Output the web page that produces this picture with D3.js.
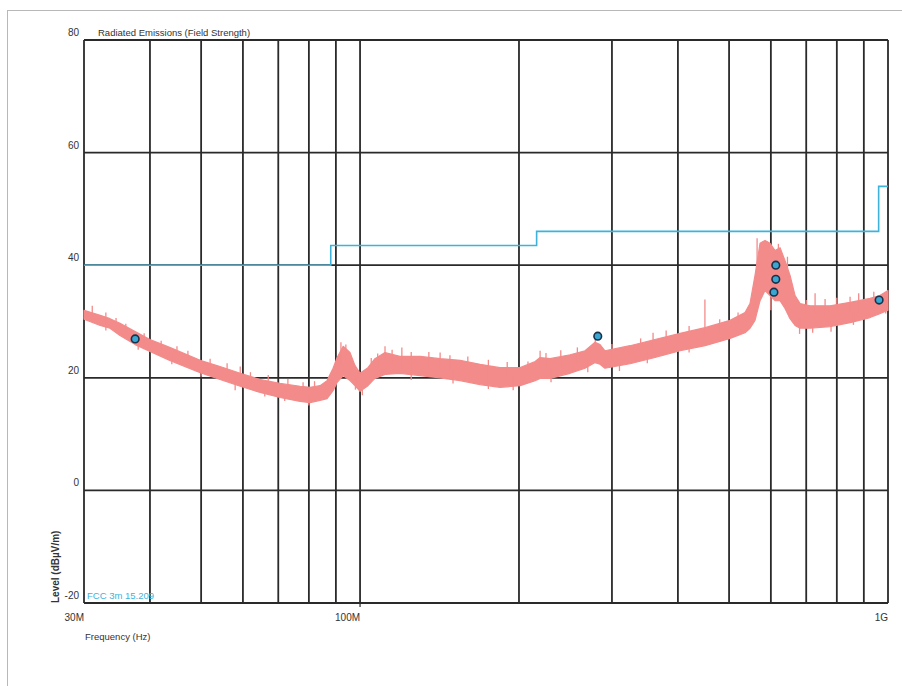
<!DOCTYPE html>
<html>
<head>
<meta charset="utf-8">
<script src="https://cdn.jsdelivr.net/npm/d3@7"></script>
<style>
  html, body { margin: 0; padding: 0; background: #ffffff; }
  svg { display: block; }
  text { font-family: "Liberation Sans", Arial, sans-serif; }
</style>
</head>
<body>
<svg id="chart" width="902" height="686"></svg>
<script>
// ---- Data ----
const gridFreqs = [30, 40, 50, 60, 70, 80, 90, 100, 200, 300, 400, 500, 600, 700, 800, 900, 1000];
const gridLevels = [-20, 0, 20, 40, 60, 80];
const yTickLabels = ["-20", "0", "20", "40", "60", "80"];
const xTickFreqs = [30, 100, 1000];
const xTickLabels = ["30M", "100M", "1G"];

// FCC 3m 15.209 limit (step after)
const limitFreq = [30, 88, 216, 960, 1000];
const limitLevel = [40, 43.5, 46, 54, 54];

// Measured trace envelope (MHz, upper dBuV/m, lower dBuV/m)
const traceFreq = [30, 32.2, 33.6, 35.1, 37.5, 40.0, 43.6, 49.8, 54.3, 59.3, 64.7, 70.5, 77.0, 80.4, 84.0, 86.6,
  88.9, 90.5, 92.9, 95.7, 97.8, 100, 103.5, 106.7, 111.5, 119, 130, 141.8, 154.7, 168.8, 184.1, 201,
  214.6, 219.3, 229, 250, 266.8, 278.7, 284.8, 291, 324.6, 361.9, 403.8, 450.3, 502.2, 536, 547.8,
  559.9, 572.3, 584.9, 597.8, 611, 624.5, 638.2, 652.3, 666.8, 681.5, 711.9, 776.7, 847.5, 924.6, 965, 1000];
const traceUpper = [32.0, 31.1, 30.5, 29.7, 28.2, 26.8, 25.4, 23.1, 22.0, 20.8, 19.7, 19.0, 18.5, 18.3, 18.6, 19.5,
  21.7, 23.6, 25.6, 24.5, 22.2, 20.8, 21.8, 23.4, 24.5, 23.8, 23.8, 23.4, 23.1, 22.4, 21.8, 21.8,
  22.9, 23.6, 23.4, 24.1, 24.8, 26.3, 25.9, 24.8, 25.7, 26.8, 27.9, 28.9, 30.2, 31.6, 33.2,
  38.2, 43.9, 44.4, 43.9, 42.6, 43.1, 40.8, 38.2, 34.6, 33.2, 32.8, 32.8, 33.4, 34.1, 34.6, 35.5];
const traceLower = [30.4, 29.3, 28.8, 27.5, 25.9, 24.7, 23.1, 20.9, 19.7, 18.5, 17.4, 16.5, 15.8, 15.6, 16.0, 16.3,
  17.7, 19.2, 20.4, 19.5, 18.6, 17.6, 18.6, 19.9, 20.6, 20.8, 20.4, 20.0, 19.5, 18.8, 18.3, 18.6,
  19.5, 19.9, 19.9, 20.8, 21.7, 22.7, 22.4, 21.7, 22.5, 23.6, 24.8, 25.7, 27.0, 28.0, 28.8,
  30.2, 33.7, 35.5, 34.6, 33.7, 33.7, 32.3, 30.5, 29.3, 28.8, 28.8, 29.1, 29.8, 30.7, 31.4, 32.0];

// Upward noise spikes (MHz, peak dBuV/m)
const spikeUpFreq = [31.1, 33, 34.5, 36, 39, 42, 45, 47.2, 52, 56, 59.3, 62, 67, 73, 78, 82, 92, 94, 105, 108,
  111.5, 115, 120, 125, 135, 141.8, 148, 160, 175, 190, 208, 219.3, 225, 240, 258, 279, 300, 340, 358.9,
  380, 420, 450, 480, 520, 565, 590, 620, 645, 700, 727.6, 760, 800, 847.5, 880, 940];
const spikeUpLevel = [32.8, 31.6, 30.6, 29.6, 27.9, 26.6, 25.6, 24.8, 23.4, 22.6, 22.0, 21.0, 20.5, 19.8, 19.2, 19.4,
  26.3, 25.9, 23.5, 24.3, 25.6, 25.0, 25.4, 24.6, 24.6, 24.5, 24.0, 23.8, 23.2, 22.8, 22.9, 24.8, 24.4,
  24.9, 25.4, 27.0, 26.0, 27.0, 28.0, 28.4, 29.2, 33.9, 30.4, 31.6, 44.8, 44.2, 43.8, 41.5, 33.8, 35.0,
  34.0, 34.2, 34.4, 35.0, 35.3];

// Downward noise spikes (MHz, trough dBuV/m)
const spikeDownFreq = [33, 38, 44, 50, 58, 66, 72, 80, 98, 101, 125, 150, 175, 195, 230, 270, 310, 350, 420,
  560, 600, 680, 720, 780, 860, 990];
const spikeDownLevel = [28.4, 25.0, 22.4, 20.2, 17.8, 16.7, 15.9, 15.1, 17.9, 16.9, 19.6, 19.0, 18.0, 17.8, 19.2,
  21.0, 21.2, 22.6, 24.5, 31.0, 32.0, 27.8, 28.0, 28.2, 29.4, 31.4];

// Marked peaks
const markerFreq = [37.5, 282, 613, 613, 608, 962];
const markerLevel = [26.9, 27.4, 40.0, 37.5, 35.2, 33.8];

// ---- Drawing ----
const svg = d3.select("#chart");
const x = d3.scaleLog().domain([30, 1000]).range([84, 888]);
const y = d3.scaleLinear().domain([-20, 80]).range([603, 40]);

// outer light frame
svg.append("rect").attr("x", 7.5).attr("y", 10.5).attr("width", 905).attr("height", 690)
  .attr("fill", "none").attr("stroke", "#b8b8b8").attr("stroke-width", 1);

// grid
const grid = svg.append("g");
grid.selectAll("line.v").data(gridFreqs).join("line")
  .attr("x1", d => x(d)).attr("x2", d => x(d))
  .attr("y1", y(80)).attr("y2", y(-20))
  .attr("stroke", "#2a2a2a").attr("stroke-width", 1.8);
grid.selectAll("line.h").data(gridLevels).join("line")
  .attr("x1", x(30)).attr("x2", x(1000))
  .attr("y1", d => y(d)).attr("y2", d => y(d))
  .attr("stroke", "#2a2a2a").attr("stroke-width", 1.8);

// limit line
const limitData = limitFreq.map((f, i) => [f, limitLevel[i]]);
svg.append("path").datum(limitData)
  .attr("d", d3.line().x(d => x(d[0])).y(d => y(d[1])).curve(d3.curveStepAfter))
  .attr("fill", "none").attr("stroke", "#3db3dc").attr("stroke-width", 1.6);

// trace band
const traceData = traceFreq.map((f, i) => ({ f, hi: traceUpper[i], lo: traceLower[i] }));
const traceColor = "#f38b8a";
svg.append("path").datum(traceData)
  .attr("d", d3.area().x(d => x(d.f)).y0(d => y(d.lo)).y1(d => y(d.hi)))
  .attr("fill", traceColor).attr("stroke", traceColor).attr("stroke-width", 1.2)
  .attr("stroke-linejoin", "round");

// mid-level of the band at a frequency (for spike bases)
const bis = d3.bisector(d => d.f).left;
function bandMid(f) {
  const i = Math.max(1, Math.min(traceData.length - 1, bis(traceData, f)));
  const a = traceData[i - 1], b = traceData[i];
  const t = (Math.log(f) - Math.log(a.f)) / (Math.log(b.f) - Math.log(a.f));
  return ((a.hi + a.lo) / 2) * (1 - t) + ((b.hi + b.lo) / 2) * t;
}
const spikes = spikeUpFreq.map((f, i) => [f, spikeUpLevel[i]])
  .concat(spikeDownFreq.map((f, i) => [f, spikeDownLevel[i]]));
svg.append("g").selectAll("line").data(spikes).join("line")
  .attr("x1", d => x(d[0])).attr("x2", d => x(d[0]))
  .attr("y1", d => y(d[1])).attr("y2", d => y(bandMid(d[0])))
  .attr("stroke", traceColor).attr("stroke-width", 1.3);

// markers
const markerData = markerFreq.map((f, i) => [f, markerLevel[i]]);
svg.append("g").selectAll("circle").data(markerData).join("circle")
  .attr("cx", d => x(d[0])).attr("cy", d => y(d[1])).attr("r", 3.8)
  .attr("fill", "#3aa6d2").attr("stroke", "#17324a").attr("stroke-width", 1.6);

// y tick labels
svg.append("g").selectAll("text").data(gridLevels).join("text")
  .attr("x", 79).attr("y", d => y(d) - 4)
  .attr("text-anchor", "end").attr("font-size", 10).attr("fill", "#333")
  .text((d, i) => yTickLabels[i]);

// x tick labels
svg.append("g").selectAll("text").data(xTickFreqs).join("text")
  .attr("x", d => x(d)).attr("y", 621)
  .attr("text-anchor", "end").attr("font-size", 10).attr("fill", "#333")
  .text((d, i) => xTickLabels[i]);

// small tick below axis at 100M
svg.append("line").attr("x1", x(100)).attr("x2", x(100)).attr("y1", y(-20)).attr("y2", y(-20) + 4)
  .attr("stroke", "#2a2a2a").attr("stroke-width", 1.2);

// title
svg.append("text").attr("x", 98).attr("y", 36).attr("font-size", 9.5).attr("fill", "#333")
  .text("Radiated Emissions (Field Strength)");

// axis titles
svg.append("text").attr("x", 85).attr("y", 640).attr("font-size", 9.5).attr("fill", "#333")
  .text("Frequency (Hz)");
svg.append("text").attr("transform", "translate(59,603) rotate(-90)")
  .attr("font-size", 10).attr("font-weight", "bold").attr("fill", "#333")
  .text("Level (dBµV/m)");

// legend
svg.append("text").attr("x", 87).attr("y", 599).attr("font-size", 9.5).attr("fill", "#3db3dc")
  .text("FCC 3m 15.209");
</script>
</body>
</html>
